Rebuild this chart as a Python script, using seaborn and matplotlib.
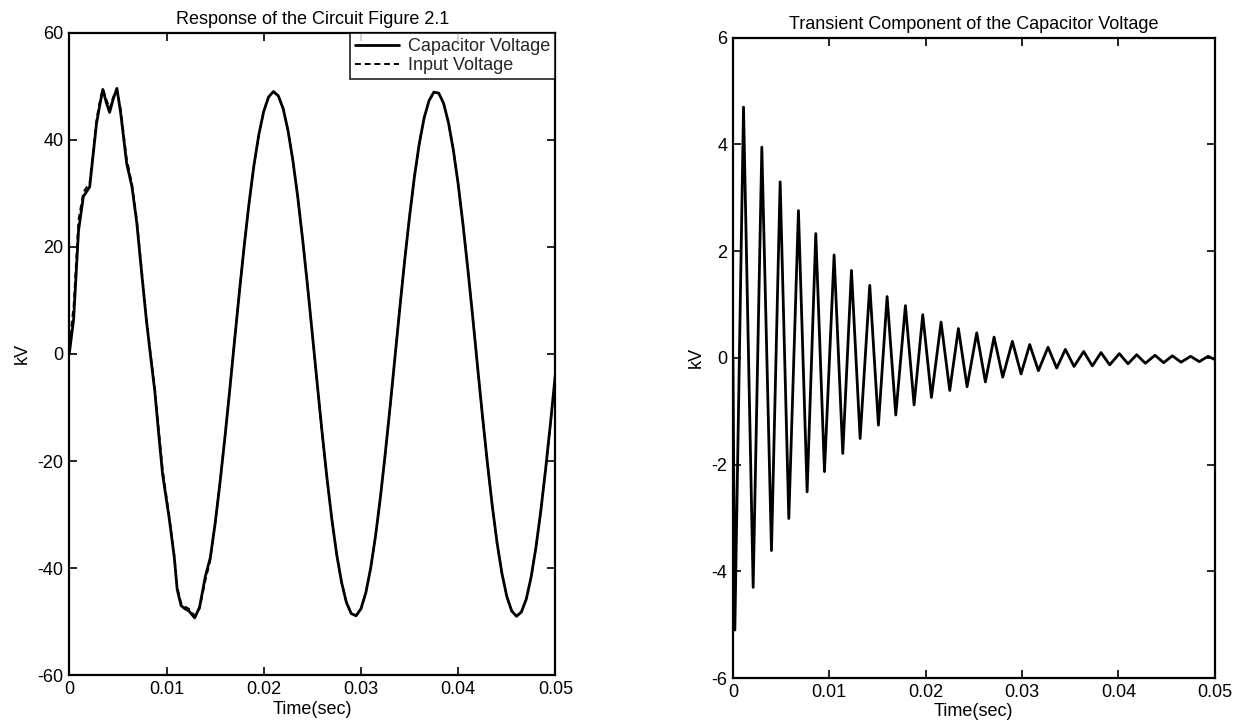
import numpy as np
import pandas as pd
import matplotlib
matplotlib.use("Agg")
import matplotlib.pyplot as plt
import seaborn as sns

sns.set_theme(style="white")
plt.rcParams["font.family"] = ["Liberation Sans", "DejaVu Sans"]
plt.rcParams["axes.unicode_minus"] = False

# ---- Response of the circuit (kV), first 14.5 ms sampled unevenly ----
early_ms = [0.0, 0.45, 0.95, 1.45, 2.1, 2.8, 3.1, 3.45, 3.8, 4.15, 4.5, 4.9,
            5.3, 5.9, 6.45, 6.95, 7.45, 7.95, 8.4, 8.8, 9.2, 9.6, 10.3, 10.8,
            11.1, 11.5, 11.9, 12.3, 12.9, 13.4, 14.0, 14.5]
cap_early_kv = [0.0, 6.5, 23.0, 29.4, 31.2, 43.0, 46.1, 49.4, 47.0, 45.1, 47.5, 49.6,
                44.8, 35.6, 31.2, 24.4, 15.0, 6.0, -1.0, -7.0, -15.0, -22.5, -31.0, -38.0,
                -44.0, -47.0, -47.6, -48.0, -49.3, -47.3, -41.5, -38.1]
inp_early_kv = [1.5, 9.0, 25.0, 30.2, 32.0, 43.8, 46.8, 49.6, 47.6, 45.8, 47.9, 49.4,
                45.6, 36.5, 31.8, 25.0, 15.8, 6.5, -0.5, -6.5, -14.0, -21.5, -30.5, -37.5,
                -43.5, -46.5, -47.2, -47.6, -48.9, -47.6, -42.3, -38.6]

# From 15 ms on both traces coincide; samples every 0.5 ms
tail_ms = np.arange(15.0, 50.01, 0.5)
tail_kv = [-31.7, -24.1, -15.7, -6.8, 2.5, 11.6, 20.3, 28.3, 35.3, 41.0,
           45.3, 48.0, 49.0, 48.2, 45.8, 41.7, 36.1, 29.3, 21.4, 12.8,
           3.7, -5.5, -14.6, -23.1, -30.8, -37.4, -42.6, -46.4, -48.5, -48.9,
           -47.6, -44.6, -40.0, -34.0, -26.8, -18.6, -9.8, -0.6, 8.6, 17.5,
           25.7, 33.1, 39.3, 44.1, 47.3, 48.9, 48.7, 46.8, 43.2, 38.1,
           31.7, 24.1, 15.7, 6.8, -2.5, -11.6, -20.3, -28.3, -35.3, -41.0,
           -45.3, -48.0, -49.0, -48.2, -45.8, -41.7, -36.1, -29.3, -21.4, -12.8,
           -3.7]

# ---- Transient component (kV): successive minima and maxima ----
trough_ms = [0.2, 2.1, 4.0, 5.8, 7.7, 9.5, 11.4, 13.2, 15.1, 16.9, 18.8, 20.6, 22.5, 24.3,
             26.2, 28.0, 29.9, 31.7, 33.6, 35.4, 37.3, 39.1, 41.0, 42.8, 44.7, 46.5, 48.4]
trough_kv = [-5.1, -4.3, -3.61, -3.01, -2.51, -2.13, -1.79, -1.51, -1.26, -1.07, -0.88,
             -0.74, -0.61, -0.54, -0.45, -0.36, -0.30, -0.24, -0.19, -0.16, -0.15, -0.13,
             -0.11, -0.10, -0.09, -0.08, -0.07]
peak_ms = [1.1, 3.0, 4.9, 6.8, 8.6, 10.5, 12.3, 14.2, 16.0, 17.9, 19.7, 21.6, 23.4, 25.3,
           27.1, 29.0, 30.8, 32.7, 34.5, 36.4, 38.2, 40.1, 41.9, 43.8, 45.6, 47.5, 49.3]
peak_kv = [4.7, 3.95, 3.3, 2.76, 2.33, 1.93, 1.64, 1.36, 1.15, 0.98, 0.81, 0.67, 0.55,
           0.47, 0.39, 0.31, 0.25, 0.20, 0.16, 0.12, 0.10, 0.08, 0.06, 0.05, 0.04, 0.03, 0.03]
start_point = (0.0, 0.0)
end_point = (50.0, -0.03)

x_ticks = [0, 0.01, 0.02, 0.03, 0.04, 0.05]
x_ticklabels = ["0", "0.01", "0.02", "0.03", "0.04", "0.05"]
left_yticks = [-60, -40, -20, 0, 20, 40, 60]
right_yticks = [-6, -4, -2, 0, 2, 4, 6]

# ---- assemble tables ----
resp = pd.DataFrame({
    "t": np.concatenate([early_ms, tail_ms]) / 1000.0,
    "cap": cap_early_kv + tail_kv,
    "inp": inp_early_kv + tail_kv,
})

tr_t = [start_point[0]]
tr_v = [start_point[1]]
for a, b, c, d in zip(trough_ms, trough_kv, peak_ms, peak_kv):
    tr_t += [a, c]
    tr_v += [b, d]
tr_t.append(end_point[0])
tr_v.append(end_point[1])
trans = pd.DataFrame({"t": np.array(tr_t) / 1000.0, "v": tr_v})

FS = 13
fig = plt.figure(figsize=(12.37, 7.26), dpi=100)
fig.patch.set_facecolor("white")
ax1 = fig.add_axes([0.056, 0.070, 0.393, 0.885])
ax2 = fig.add_axes([0.5925, 0.066, 0.3895, 0.882])

sns.lineplot(data=resp, x="t", y="inp", ax=ax1, color="black", linewidth=1.4,
             linestyle=(0, (3.0, 2.0)), estimator=None, sort=False, label="Input Voltage")
sns.lineplot(data=resp, x="t", y="cap", ax=ax1, color="black", linewidth=2.0,
             estimator=None, sort=False, label="Capacitor Voltage",
             solid_joinstyle="round")
sns.lineplot(data=trans, x="t", y="v", ax=ax2, color="black", linewidth=2.0,
             estimator=None, sort=False, solid_joinstyle="round")

for ax, yt, title in [(ax1, left_yticks, "Response of the Circuit Figure 2.1"),
                      (ax2, right_yticks, "Transient Component of the Capacitor Voltage")]:
    ax.set_facecolor("white")
    ax.set_xlim(0, 0.05)
    ax.set_xticks(x_ticks)
    ax.set_xticklabels(x_ticklabels)
    ax.set_ylim(yt[0], yt[-1])
    ax.set_yticks(yt)
    ax.set_yticklabels([str(v) for v in yt])
    ax.tick_params(direction="in", bottom=True, left=True, top=True, right=True,
                   length=6, width=1.2, colors="black", labelsize=FS, pad=4)
    for s in ax.spines.values():
        s.set_visible(True)
        s.set_color("black")
        s.set_linewidth(1.6)
    ax.set_title(title, fontsize=FS, color="black", pad=6)
    ax.set_xlabel("Time(sec)", fontsize=FS, color="black", labelpad=2)
    ax.set_ylabel("kV", fontsize=FS, color="black", labelpad=5)
    ax.grid(False)

handles, labels = ax1.get_legend_handles_labels()
order = [labels.index("Capacitor Voltage"), labels.index("Input Voltage")]
leg = ax1.legend([handles[i] for i in order], [labels[i] for i in order],
                 loc="upper right", borderaxespad=0, fontsize=FS, frameon=True,
                 fancybox=False, handlelength=2.4, handletextpad=0.5,
                 borderpad=0.3, labelspacing=0.1)
leg.get_frame().set_edgecolor("black")
leg.get_frame().set_linewidth(1.3)

fig.savefig("out.png", dpi=100, facecolor="white")
